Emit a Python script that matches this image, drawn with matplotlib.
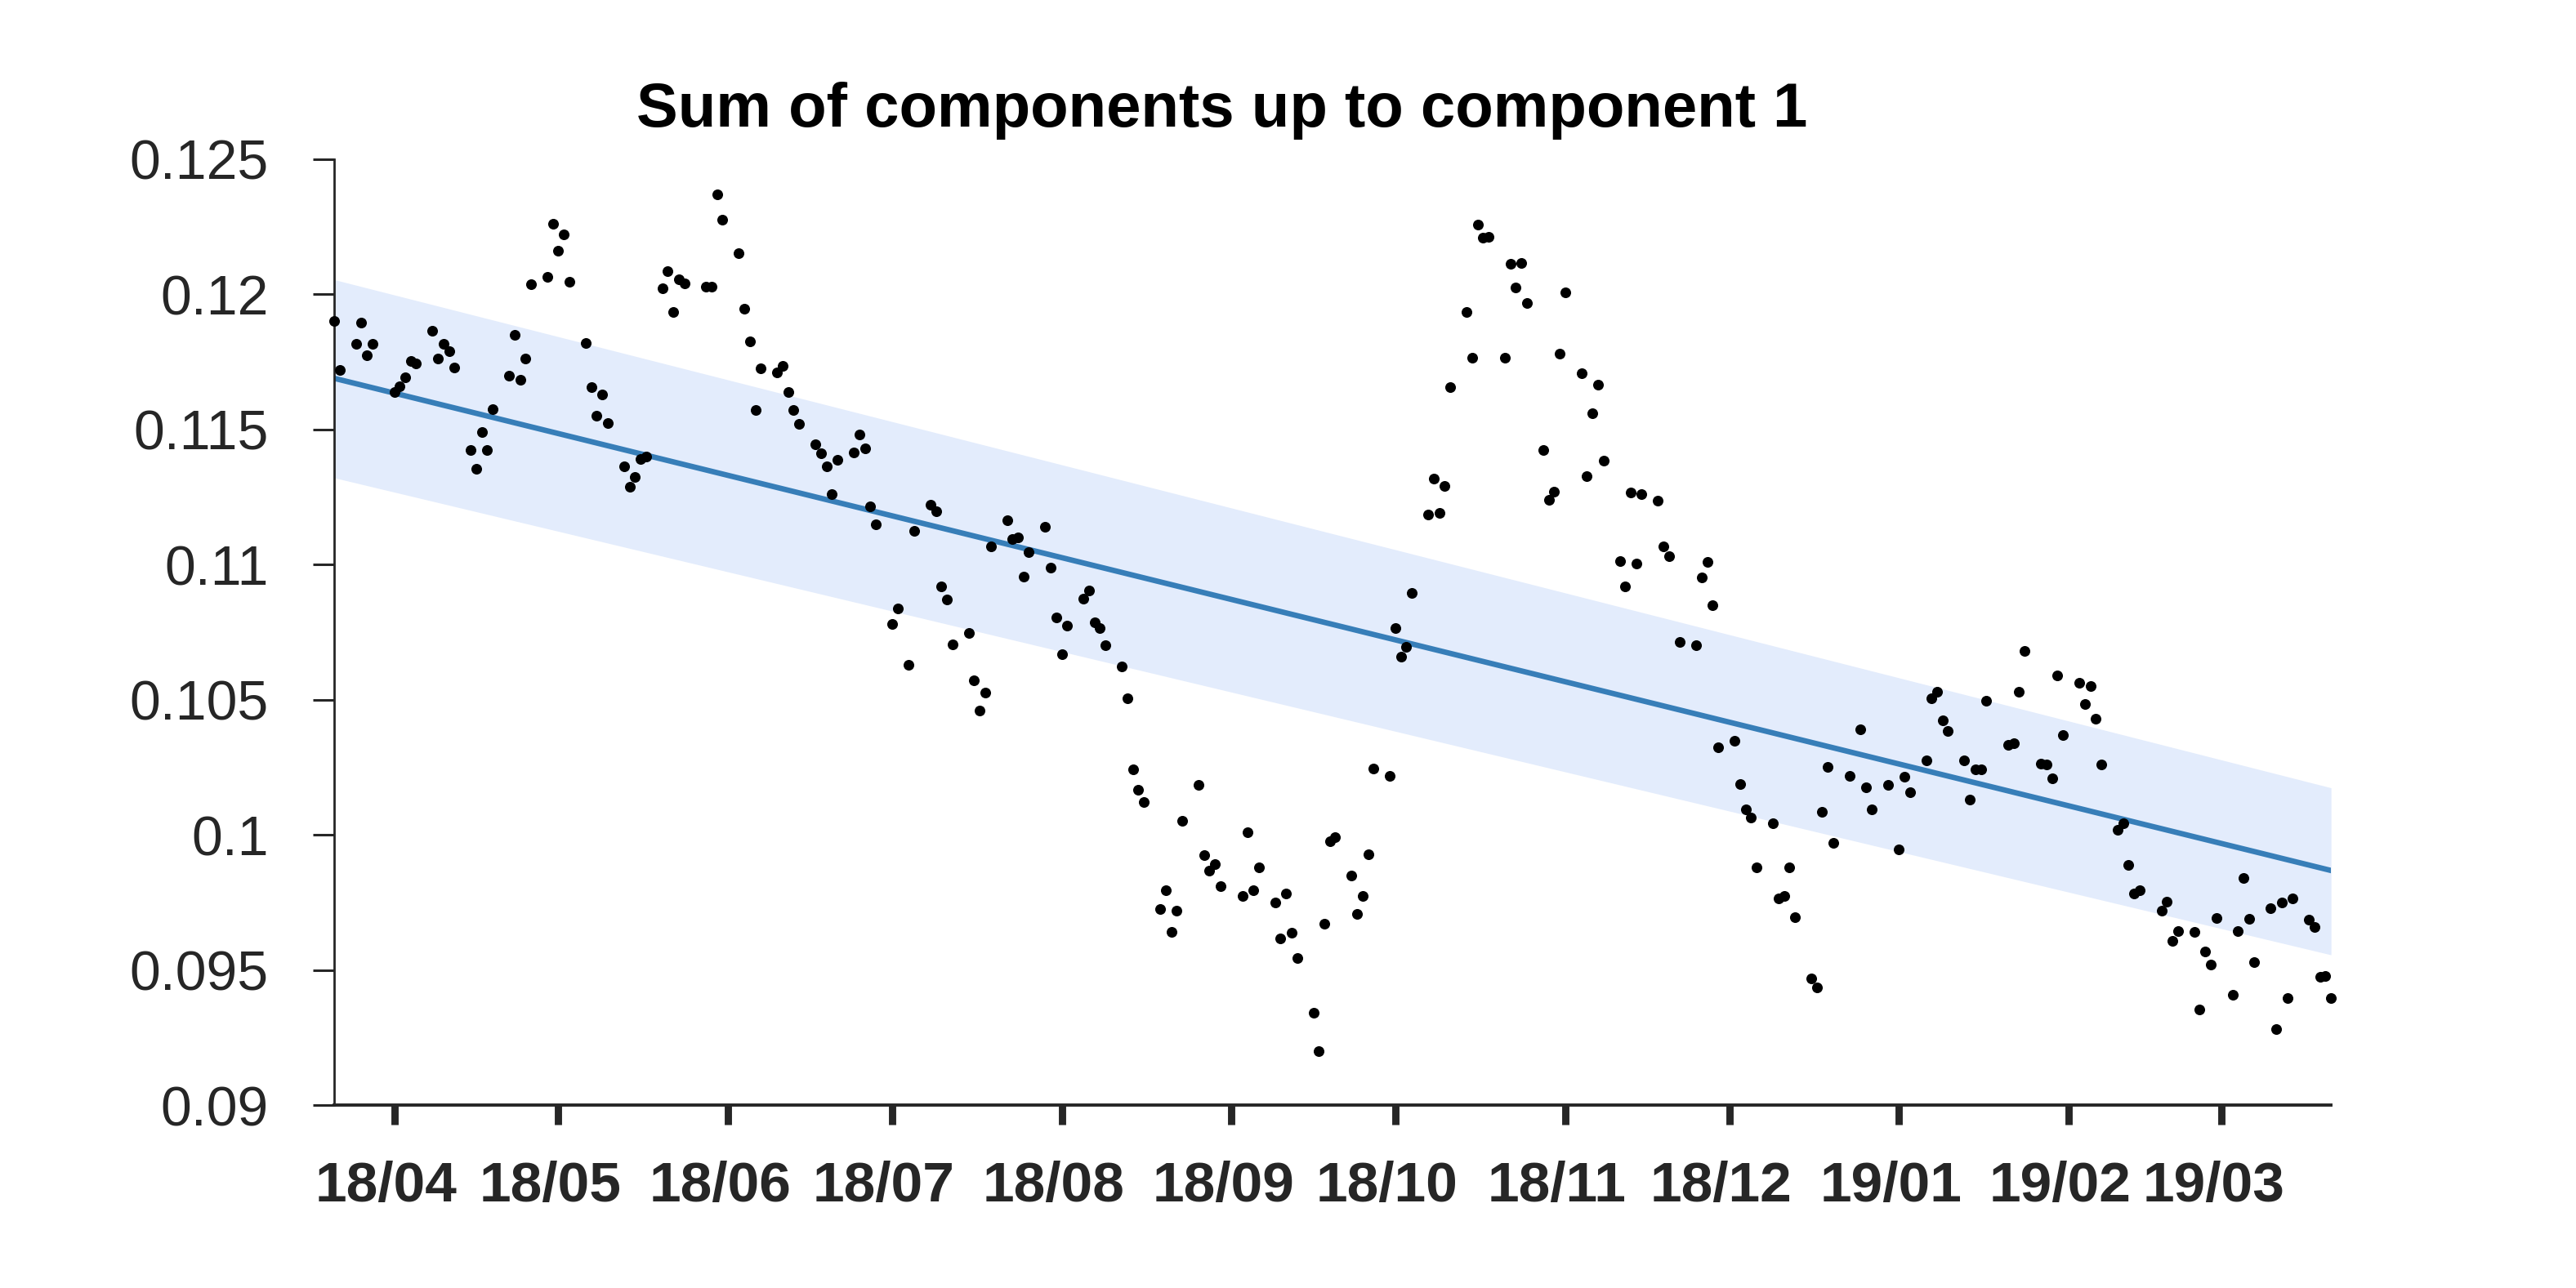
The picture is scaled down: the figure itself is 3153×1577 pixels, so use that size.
import numpy as np
import pandas as pd
import matplotlib
matplotlib.use("Agg")
import matplotlib.pyplot as plt
import matplotlib.dates as mdates
import matplotlib.transforms as mtransforms

plt.rcParams['font.family'] = ['Liberation Sans', 'DejaVu Sans']

# trading days of the series, US market holidays left out
start_day = '2018-03-22'
end_day = '2019-03-22'
holidays = ['2018-03-30', '2018-05-28', '2018-07-04', '2018-09-03', '2018-11-22',
            '2018-12-25', '2019-01-01', '2019-01-21', '2019-02-18']

# one row per week
values = [
    0.11901, 0.11720,
    0.11815, 0.11896, 0.11774, 0.11815,
    0.11639, 0.11659, 0.11691, 0.11754, 0.11745,
    0.11865, 0.11761, 0.11815, 0.11790, 0.11729,
    0.11425, 0.11355, 0.11490, 0.11425, 0.11576,
    0.11700, 0.11851, 0.11684, 0.11761, 0.12036,
    0.12065, 0.12262, 0.12160, 0.12221, 0.12045,
    0.11820, 0.11655, 0.11551, 0.11630, 0.11524,
    0.11364, 0.11289, 0.11323, 0.11389, 0.11398,
    0.12023, 0.12086, 0.11935, 0.12054, 0.12041,
    0.12027, 0.12029, 0.12370, 0.12275,
    0.12151, 0.11946, 0.11826, 0.11571, 0.11727,
    0.11711, 0.11734, 0.11637, 0.11571, 0.11520,
    0.11445, 0.11411, 0.11364, 0.11260, 0.11386,
    0.11416, 0.11481, 0.11429, 0.11215, 0.11150,
    0.10780, 0.10836, 0.10629, 0.11125,
    0.11220, 0.11197, 0.10920, 0.10870, 0.10705,
    0.10746, 0.10570, 0.10459, 0.10525, 0.11066,
    0.11165, 0.11095, 0.11100, 0.10956, 0.11046,
    0.11141, 0.10989, 0.10805, 0.10669, 0.10775,
    0.10874, 0.10904, 0.10786, 0.10764, 0.10701,
    0.10624, 0.10505, 0.10241, 0.10168, 0.10121,
    0.09724, 0.09794, 0.09641, 0.09720, 0.10053,
    0.10186, 0.09925, 0.09866, 0.09893, 0.09810,
    0.09774, 0.10008, 0.09794, 0.09880,
    0.09749, 0.09618, 0.09783, 0.09638, 0.09544,
    0.09343, 0.09199, 0.09670, 0.09977, 0.09990,
    0.09850, 0.09708, 0.09774, 0.09929, 0.10245,
    0.10218, 0.10764, 0.10660, 0.10696, 0.10895,
    0.11186, 0.11317, 0.11190, 0.11292, 0.11655,
    0.11935, 0.11765, 0.12257, 0.12208, 0.12212,
    0.11765, 0.12111, 0.12025, 0.12115, 0.11966,
    0.11425, 0.11240, 0.11269, 0.11779, 0.12007,
    0.11709, 0.11326, 0.11560, 0.11666, 0.11384,
    0.11014, 0.10920, 0.11265, 0.11005, 0.11260,
    0.11235, 0.11066, 0.11030, 0.10714,
    0.10701, 0.10951, 0.11010, 0.10850, 0.10324,
    0.10349, 0.10189, 0.10094, 0.10065, 0.09880,
    0.10044, 0.09765, 0.09774, 0.09880, 0.09695,
    0.09469, 0.09435, 0.10085, 0.10250, 0.09970,
    0.10218, 0.10390, 0.10175, 0.10094,
    0.10184, 0.09947, 0.10214, 0.10159,
    0.10275, 0.10505, 0.10529, 0.10423, 0.10385,
    0.10275, 0.10130, 0.10241, 0.10241, 0.10496,
    0.10333, 0.10338, 0.10529, 0.10680,
    0.10263, 0.10259, 0.10209, 0.10590, 0.10369,
    0.10561, 0.10484, 0.10550, 0.10430, 0.10259,
    0.10020, 0.10044, 0.09889, 0.09783, 0.09794,
    0.09720, 0.09753, 0.09609, 0.09643,
    0.09641, 0.09354, 0.09568, 0.09519, 0.09692,
    0.09408, 0.09643, 0.09839, 0.09688, 0.09530,
    0.09729, 0.09280, 0.09749, 0.09395, 0.09765,
    0.09686, 0.09659, 0.09474, 0.09478, 0.09395,
]

# fitted trend and its band, at first and last day
fit_ends = [0.11689, 0.09868]
upper_ends = [0.12054, 0.10174]
lower_ends = [0.11321, 0.09556]

yticks = [0.09, 0.095, 0.1, 0.105, 0.11, 0.115, 0.12, 0.125]
ytick_labels = ['0.09', '0.095', '0.1', '0.105', '0.11', '0.115', '0.12', '0.125']
title = 'Sum of components up to component 1'

# the stamps sit one day before the trading day in the plot
days = pd.bdate_range(start_day, end_day, freq='C', holidays=holidays) - pd.Timedelta(days=1)
assert len(days) == len(values)

ink = '#262626'
fig = plt.figure(figsize=(15.765, 7.885), dpi=200)
ax = fig.add_axes([0.1297, 0.142, 0.7752, 0.7345])

ends = [days[0], days[-1]]
ax.fill_between(ends, lower_ends, upper_ends, color='#e3ecfc', lw=0)
ax.plot(ends, fit_ends, color='#377eb8', lw=2.4)
ax.plot(days, values, 'o', color='black', ms=4.7, mew=0, clip_on=False, zorder=4)

ax.set_xlim(days[0], days[-1])
ax.set_ylim(0.09, 0.125)
ax.set_yticks(yticks)
ax.set_yticklabels(ytick_labels)
ax.xaxis.set_major_locator(mdates.MonthLocator())
ax.xaxis.set_major_formatter(mdates.DateFormatter('%y/%m'))

for side in ['top', 'right']:
    ax.spines[side].set_visible(False)
ax.spines['left'].set_linewidth(1.0)
ax.spines['bottom'].set_linewidth(1.4)
ax.spines['left'].set_color(ink)
ax.spines['bottom'].set_color(ink)

ax.tick_params(axis='y', length=9.4, width=1.1, pad=19.5, labelsize=24.5, colors=ink)
ax.tick_params(axis='x', length=8.6, width=3.2, pad=16, labelsize=25, colors=ink)
# month labels sit a little left of their ticks in the original
shift = mtransforms.ScaledTranslation(-0.05, 0, fig.dpi_scale_trans)
for lab in ax.get_xticklabels():
    lab.set_fontweight('bold')
    lab.set_transform(lab.get_transform() + shift)

fig.text(1496 / 3153, 1 - 155 / 1577, title, ha='center', va='baseline',
         fontsize=27.4, fontweight='bold')

fig.savefig('out.png', dpi=200)
